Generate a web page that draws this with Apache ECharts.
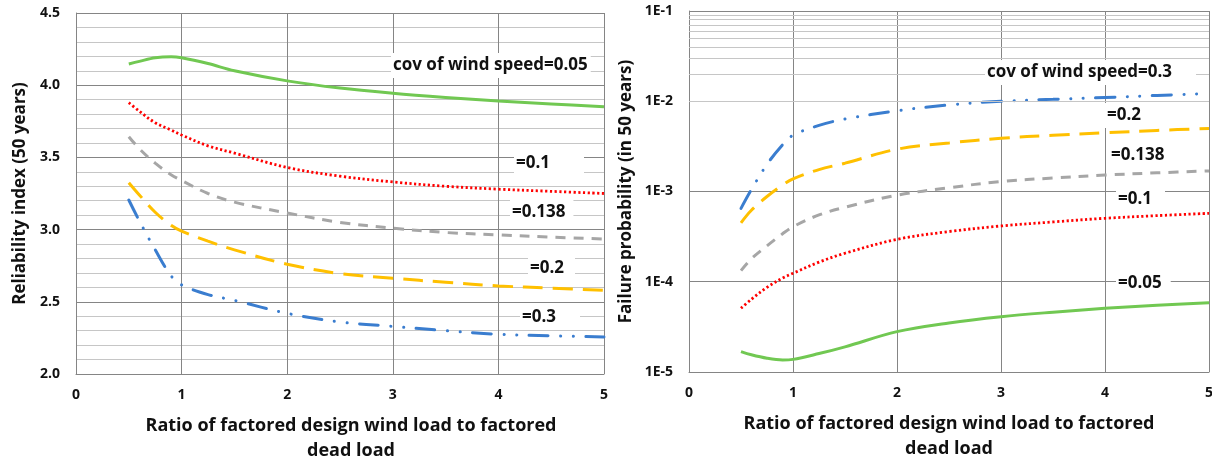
<!DOCTYPE html>
<html>
<head>
<meta charset="utf-8">
<script src="https://cdn.jsdelivr.net/npm/echarts@6/dist/echarts.min.js"></script>
<style>
  html, body { margin: 0; padding: 0; background: #fff; }
  #chart { width: 1212px; height: 461px; }
</style>
</head>
<body>
<div id="chart"></div>
<script>
// x: ratio of factored design wind load to factored dead load
var ratio = [0.5, 0.6, 0.75, 0.9, 1, 1.25, 1.5, 2, 2.5, 3, 3.5, 4, 4.5, 5];

// reliability index (50 years), one array per cov of wind speed
var beta005 = [4.147, 4.165, 4.19, 4.197, 4.19, 4.15, 4.10, 4.03, 3.98, 3.944, 3.915, 3.89, 3.87, 3.85];
var beta010 = [3.879, 3.82, 3.74, 3.69, 3.655, 3.58, 3.53, 3.43, 3.37, 3.33, 3.30, 3.28, 3.265, 3.25];
var beta0138 = [3.643, 3.56, 3.46, 3.38, 3.34, 3.25, 3.19, 3.115, 3.05, 3.01, 2.98, 2.963, 2.948, 2.935];
var beta020 = [3.325, 3.24, 3.12, 3.03, 2.99, 2.92, 2.86, 2.76, 2.695, 2.663, 2.635, 2.61, 2.595, 2.58];
var beta030 = [3.205, 3.06, 2.86, 2.68, 2.617, 2.55, 2.51, 2.42, 2.36, 2.33, 2.30, 2.275, 2.265, 2.256];

// failure probability (in 50 years)
var pf005 = [1.68e-5, 1.55e-5, 1.42e-5, 1.36e-5, 1.38e-5, 1.6e-5, 1.9e-5, 2.8e-5, 3.5e-5, 4.1e-5, 4.6e-5, 5.08e-5, 5.5e-5, 5.86e-5];
var pf010 = [5.08e-5, 6.4e-5, 8.67e-5, 1.1e-4, 1.24e-4, 1.65e-4, 2.07e-4, 2.95e-4, 3.6e-4, 4.15e-4, 4.6e-4, 5.05e-4, 5.4e-4, 5.73e-4];
var pf0138 = [1.33e-4, 1.8e-4, 2.5e-4, 3.4e-4, 4.07e-4, 5.5e-4, 6.7e-4, 9.1e-4, 1.1e-3, 1.29e-3, 1.41e-3, 1.52e-3, 1.61e-3, 1.69e-3];
var pf020 = [4.5e-4, 6.2e-4, 8.8e-4, 1.18e-3, 1.38e-3, 1.75e-3, 2.06e-3, 2.94e-3, 3.45e-3, 3.89e-3, 4.2e-3, 4.47e-3, 4.75e-3, 5.0e-3];
var pf030 = [6.5e-4, 1.05e-3, 2.0e-3, 3.3e-3, 4.2e-3, 5.4e-3, 6.35e-3, 7.85e-3, 9.1e-3, 1.0e-2, 1.05e-2, 1.1e-2, 1.16e-2, 1.22e-2];

// minor gridlines of the log axis (2..9 per decade)
var logMinor = [2, 3, 4, 5, 6, 7, 8, 9];
var logDecades = [1e-5, 1e-4, 1e-3, 1e-2];

var FONT = '"Open Sans", Lato, sans-serif';
var MAJOR = '#858585';
var MINOR = '#c6c6c6';

var styles = {
  '0.05': { color: '#71c852', width: 3, type: 'solid' },
  '0.1': { color: '#ff0000', width: 2.8, type: [2.2, 2.5] },
  '0.138': { color: '#a6a6a6', width: 3, type: [10, 8] },
  '0.2': { color: '#ffc000', width: 3, type: [20, 10] },
  '0.3': { color: '#3a7dcf', width: 3, type: [19, 12.5, 0.1, 12.5, 0.1, 12.5], cap: 'round' }
};

function zip(xs, ys) {
  return xs.map(function (x, i) { return [x, ys[i]]; });
}

function line(cov, values, idx) {
  return {
    type: 'line',
    name: cov,
    xAxisIndex: idx,
    yAxisIndex: idx,
    data: zip(ratio, values),
    smooth: 0.35,
    showSymbol: false,
    color: styles[cov].color,
    lineStyle: styles[cov],
    animation: false
  };
}

function note(text, x, y, padRight) {
  return {
    type: 'text',
    left: x,
    top: y - 12,
    z: 100,
    style: {
      text: text,
      font: 'bold 17px ' + FONT,
      fill: '#111',
      backgroundColor: '#fff',
      padding: [4, padRight, 4, 2]
    }
  };
}

var minorLines = [];
logDecades.forEach(function (d) {
  logMinor.forEach(function (m) { minorLines.push({ yAxis: m * d }); });
});

var xAxisBase = {
  type: 'value',
  min: 0,
  max: 5,
  interval: 1,
  name: 'Ratio of factored design wind load to factored\ndead load',
  nameLocation: 'middle',
  nameGap: 39,
  nameTextStyle: { fontFamily: FONT, fontWeight: 'bold', fontSize: 18, color: '#111', lineHeight: 25 },
  axisLine: { show: true, onZero: false, lineStyle: { color: MAJOR } },
  axisTick: { show: false },
  axisLabel: { margin: 14, fontFamily: FONT, fontWeight: 'bold', fontSize: 14, color: '#111' },
  splitLine: { show: true, lineStyle: { color: MAJOR } }
};

var chart = echarts.init(document.getElementById('chart'));
chart.setOption({
  backgroundColor: '#fff',
  animation: false,
  grid: [
    { left: 76, right: 608, top: 13, bottom: 87, containLabel: false, outerBoundsMode: 'none' },
    { left: 689, right: 3, top: 11, bottom: 89, containLabel: false, outerBoundsMode: 'none' }
  ],
  xAxis: [
    Object.assign({}, xAxisBase, { gridIndex: 0, nameTextStyle: Object.assign({}, xAxisBase.nameTextStyle, { padding: [0, 0, 0, 22] }) }),
    Object.assign({}, xAxisBase, { gridIndex: 1 })
  ],
  yAxis: [
    {
      gridIndex: 0,
      type: 'value',
      min: 2,
      max: 4.5,
      interval: 0.5,
      name: 'Reliability index (50 years)',
      nameLocation: 'middle',
      nameGap: 47,
      nameTextStyle: { fontFamily: FONT, fontWeight: 'bold', fontSize: 17, color: '#111' },
      axisLine: { show: true, lineStyle: { color: MAJOR } },
      axisTick: { show: false },
      axisLabel: { margin: 16, fontFamily: FONT, fontWeight: 'bold', fontSize: 14, color: '#111',
        formatter: function (v) { return v.toFixed(1); } },
      splitLine: { show: true, lineStyle: { color: MAJOR } },
      minorTick: { show: false, splitNumber: 5 },
      minorSplitLine: { show: true, lineStyle: { color: MINOR } }
    },
    {
      gridIndex: 1,
      type: 'log',
      logBase: 10,
      min: 1e-5,
      max: 1e-1,
      splitNumber: 4,
      name: 'Failure probability (in 50 years)',
      nameLocation: 'middle',
      nameGap: 54,
      nameTextStyle: { fontFamily: FONT, fontWeight: 'bold', fontSize: 17, color: '#111' },
      axisLine: { show: true, lineStyle: { color: MAJOR } },
      axisTick: { show: false },
      axisLabel: { margin: 16, fontFamily: FONT, fontWeight: 'bold', fontSize: 14, color: '#111',
        formatter: function (v) { return '1E' + Math.round(Math.log10(v)); } },
      splitLine: { show: true, lineStyle: { color: MAJOR } }
    }
  ],
  series: [
    {
      type: 'line',
      xAxisIndex: 1,
      yAxisIndex: 1,
      data: [],
      silent: true,
      z: 0,
      markLine: {
        silent: true,
        symbol: 'none',
        label: { show: false },
        lineStyle: { color: MINOR, type: 'solid', width: 1 },
        animation: false,
        data: minorLines
      }
    },
    line('0.05', beta005, 0),
    line('0.1', beta010, 0),
    line('0.138', beta0138, 0),
    line('0.2', beta020, 0),
    line('0.3', beta030, 0),
    line('0.05', pf005, 1),
    line('0.1', pf010, 1),
    line('0.138', pf0138, 1),
    line('0.2', pf020, 1),
    line('0.3', pf030, 1)
  ],
  graphic: [
    note('cov of wind speed=0.05', 391, 65, 3),
    note('=0.1', 514, 163, 34),
    note('=0.138', 510, 212, 8),
    note('=0.2', 528, 268, 11),
    note('=0.3', 520, 317, 24),
    note('cov of wind speed=0.3', 985, 72, 24),
    note('=0.2', 1105, 115, 19),
    note('=0.138', 1109, 155, 26),
    note('=0.1', 1116, 199, 13),
    note('=0.05', 1116, 283, 9)
  ]
});
</script>
</body>
</html>
